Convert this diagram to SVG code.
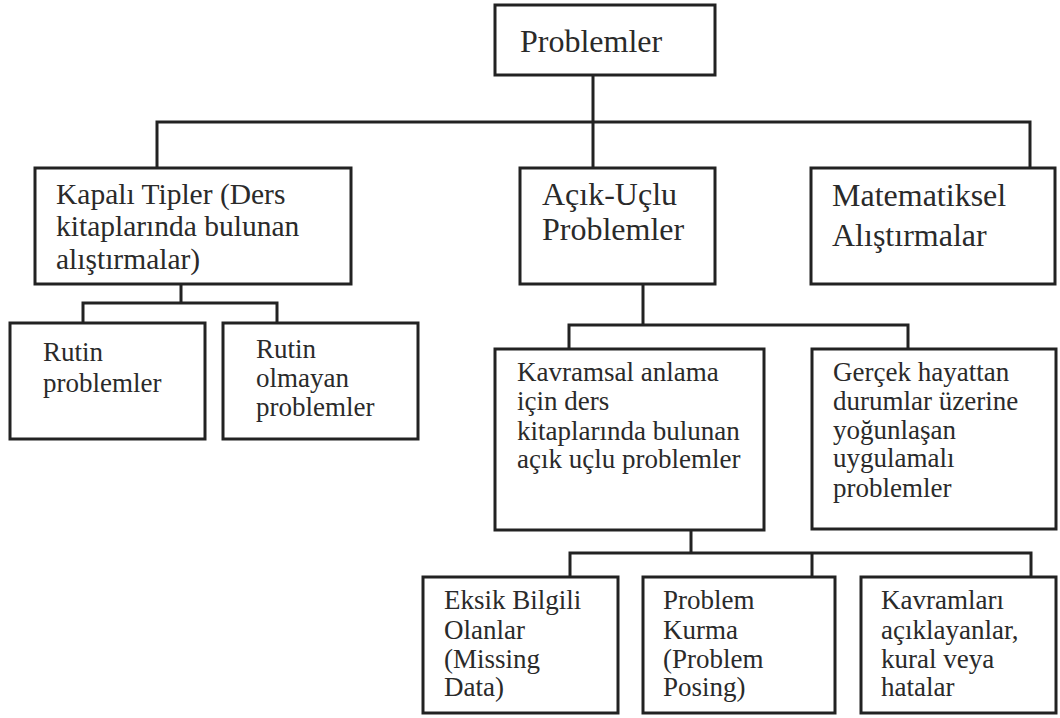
<svg xmlns="http://www.w3.org/2000/svg" width="1060" height="718" viewBox="0 0 1060 718">
  <style>
    .box { fill: #ffffff; stroke: #222222; stroke-width: 3; }
    .wire { fill: none; stroke: #222222; stroke-width: 3; }
    .lbl { font-family: 'Liberation Serif', 'Times New Roman', Times, 'DejaVu Serif', serif; fill: #2a2a2a; }
    .t32 { font-size: 32px; }
    .t29 { font-size: 29.5px; }
    .t27 { font-size: 27px; }
  </style>
  <rect width="1060" height="718" fill="#ffffff"/>

  <!-- connectors -->
  <g id="connectors">
    <path class="wire" d="M593 75 V122 M157 168 V122 H1030 V168 M593 122 V168"/>
    <path class="wire" d="M181 284 V303 M83 323 V303 H277 V323"/>
    <path class="wire" d="M643 280 V325 M569 349 V325 H908 V349"/>
    <path class="wire" d="M691 530 V553 M570 577 V553 H1031 V577 M812 553 V577"/>
  </g>

  <g id="node-problemler">
    <rect class="box" x="495" y="5" width="220" height="70"/>
    <text class="lbl t32" x="520" y="52">Problemler</text>
  </g>

  <g id="node-kapali">
    <rect class="box" x="35" y="168" width="316" height="116"/>
    <text class="lbl t29" x="56" y="204">Kapalı Tipler (Ders</text>
    <text class="lbl t29" x="56" y="236">kitaplarında bulunan</text>
    <text class="lbl t29" x="56" y="269">alıştırmalar)</text>
  </g>

  <g id="node-acik">
    <rect class="box" x="520" y="168" width="195" height="116"/>
    <text class="lbl t32" x="542" y="205">Açık-Uçlu</text>
    <text class="lbl t32" x="542" y="240">Problemler</text>
  </g>

  <g id="node-matematiksel">
    <rect class="box" x="811" y="168" width="244" height="116"/>
    <text class="lbl t32" x="832" y="206">Matematiksel</text>
    <text class="lbl t32" x="832" y="246">Alıştırmalar</text>
  </g>

  <g id="node-rutin">
    <rect class="box" x="10" y="323" width="195" height="116"/>
    <text class="lbl t27" x="43" y="361">Rutin</text>
    <text class="lbl t27" x="43" y="392">problemler</text>
  </g>

  <g id="node-rutin-olmayan">
    <rect class="box" x="223" y="323" width="195" height="116"/>
    <text class="lbl t27" x="256" y="358">Rutin</text>
    <text class="lbl t27" x="256" y="387">olmayan</text>
    <text class="lbl t27" x="256" y="416">problemler</text>
  </g>

  <g id="node-kavramsal">
    <rect class="box" x="495" y="349" width="269" height="181"/>
    <text class="lbl t27" x="517" y="381">Kavramsal anlama</text>
    <text class="lbl t27" x="517" y="410">için ders</text>
    <text class="lbl t27" x="517" y="440">kitaplarında bulunan</text>
    <text class="lbl t27" x="517" y="468">açık uçlu problemler</text>
  </g>

  <g id="node-gercek">
    <rect class="box" x="812" y="349" width="244" height="180"/>
    <text class="lbl t27" x="833" y="381">Gerçek hayattan</text>
    <text class="lbl t27" x="833" y="410">durumlar üzerine</text>
    <text class="lbl t27" x="833" y="439">yoğunlaşan</text>
    <text class="lbl t27" x="833" y="467">uygulamalı</text>
    <text class="lbl t27" x="833" y="497">problemler</text>
  </g>

  <g id="node-eksik">
    <rect class="box" x="423" y="577" width="195" height="136"/>
    <text class="lbl t27" x="444" y="609">Eksik Bilgili</text>
    <text class="lbl t27" x="444" y="639">Olanlar</text>
    <text class="lbl t27" x="444" y="668">(Missing</text>
    <text class="lbl t27" x="444" y="696">Data)</text>
  </g>

  <g id="node-problem-kurma">
    <rect class="box" x="643" y="577" width="192" height="136"/>
    <text class="lbl t27" x="663" y="609">Problem</text>
    <text class="lbl t27" x="663" y="639">Kurma</text>
    <text class="lbl t27" x="663" y="668">(Problem</text>
    <text class="lbl t27" x="663" y="696">Posing)</text>
  </g>

  <g id="node-kavramlari">
    <rect class="box" x="861" y="577" width="195" height="136"/>
    <text class="lbl t27" x="881" y="609">Kavramları</text>
    <text class="lbl t27" x="881" y="639">açıklayanlar,</text>
    <text class="lbl t27" x="881" y="668">kural veya</text>
    <text class="lbl t27" x="881" y="696">hatalar</text>
  </g>
</svg>
